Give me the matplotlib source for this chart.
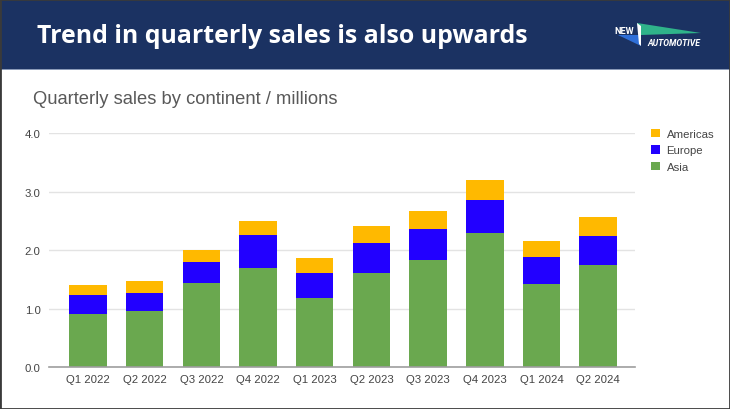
import matplotlib
matplotlib.use("Agg")
import matplotlib.pyplot as plt
from matplotlib.patches import Rectangle, Polygon
import numpy as np

quarters = ["Q1 2022", "Q2 2022", "Q3 2022", "Q4 2022", "Q1 2023",
            "Q2 2023", "Q3 2023", "Q4 2023", "Q1 2024", "Q2 2024"]
asia = [0.91, 0.955, 1.44, 1.69, 1.18, 1.61, 1.83, 2.30, 1.43, 1.745]
europe = [0.33, 0.315, 0.35, 0.57, 0.43, 0.51, 0.535, 0.56, 0.45, 0.505]
americas = [0.16, 0.20, 0.21, 0.23, 0.255, 0.30, 0.305, 0.34, 0.27, 0.31]
yticks = [0.0, 1.0, 2.0, 3.0, 4.0]

W, H = 730, 410
fig = plt.figure(figsize=(W / 100, H / 100), dpi=100)
fig.patch.set_facecolor("white")

def fx(px):
    return px / W

def fy(py):
    return 1 - py / H

# header band
fig.add_artist(Rectangle((0, fy(70)), 1, 70 / H, transform=fig.transFigure,
                         facecolor="#1b3262", edgecolor="none", zorder=0))
fig.add_artist(Rectangle((0, fy(71)), 1, 1.2 / H, transform=fig.transFigure,
                         facecolor="#8a9ab8", edgecolor="none", zorder=0))
# frame
fig.add_artist(Rectangle((0, 0), 1, 1, transform=fig.transFigure,
                         facecolor="none", edgecolor="#3a3a3a", linewidth=2.0, zorder=10))

fig.text(fx(37), fy(43), "Trend in quarterly sales is also upwards", color="white",
         fontsize=17.9, fontweight="bold", family="Open Sans", va="baseline", ha="left")

# logo
fig.add_artist(Polygon([(fx(637), fy(24)), (fx(701), fy(34)), (fx(641), fy(36))],
                       closed=True, transform=fig.transFigure,
                       facecolor="#2fb38a", edgecolor="none"))
fig.add_artist(Polygon([(fx(618), fy(36)), (fx(641), fy(36)), (fx(641), fy(47))],
                       closed=True, transform=fig.transFigure,
                       facecolor="#2f6fd8", edgecolor="none"))
fig.add_artist(Polygon([(fx(637), fy(24)), (fx(641), fy(27)), (fx(641), fy(47)), (fx(639), fy(45))],
                       closed=True, transform=fig.transFigure,
                       facecolor="white", edgecolor="none"))
fig.text(fx(614), fy(33.5), "NEW", color="white", fontsize=6.6, fontweight="bold",
         family="Roboto", va="baseline", ha="left")
fig.text(fx(647), fy(46.5), "AUTOMOTIVE", color="white", fontsize=6.2, fontweight="bold",
         fontstyle="italic", family="Roboto", va="baseline", ha="left")

fig.text(fx(33), fy(104), "Quarterly sales by continent / millions", color="#595959",
         fontsize=13.2, family="Liberation Sans", va="baseline", ha="left")

ax = fig.add_axes([fx(49), fy(368.3), fx(635) - fx(49), (368.3 - 134) / H])
x = np.arange(len(quarters))
bw = 0.66
c_asia, c_eu, c_am = "#6aa84f", "#2200ff", "#ffb900"
b1 = ax.bar(x, asia, bw, color=c_asia, label="Asia", zorder=2)
bottom2 = np.array(asia)
b2 = ax.bar(x, europe, bw, bottom=bottom2, color=c_eu, label="Europe", zorder=2)
bottom3 = bottom2 + np.array(europe)
b3 = ax.bar(x, americas, bw, bottom=bottom3, color=c_am, label="Americas", zorder=2)

ax.set_xlim(-0.69, 9.65)
ax.set_ylim(0, 4.0)
ax.set_yticks(yticks)
ax.set_yticklabels([f"{v:.1f}" for v in yticks])
ax.set_xticks(x)
ax.set_xticklabels(quarters)
for s in ["top", "right", "left"]:
    ax.spines[s].set_visible(False)
ax.spines["bottom"].set_color("#9e9e9e")
ax.spines["bottom"].set_linewidth(1.2)
ax.grid(axis="y", color="#e3e3e3", linewidth=1.0, zorder=0)
ax.set_axisbelow(True)
ax.tick_params(axis="both", length=0, colors="#444444", labelsize=8.2)
ax.tick_params(axis="y", pad=6)
ax.tick_params(axis="x", pad=5)
for lab in ax.get_xticklabels() + ax.get_yticklabels():
    lab.set_family("Liberation Sans")

leg = ax.legend(handles=[b3, b2, b1], loc="upper left",
                bbox_to_anchor=(fx(646), fy(125)), bbox_transform=fig.transFigure,
                frameon=False, fontsize=8.2, handlelength=0.8, handleheight=0.8,
                handletextpad=0.6, labelspacing=0.55, borderaxespad=0)
for t in leg.get_texts():
    t.set_color("#444444")
    t.set_family("Liberation Sans")

fig.savefig("out.png", dpi=100)
